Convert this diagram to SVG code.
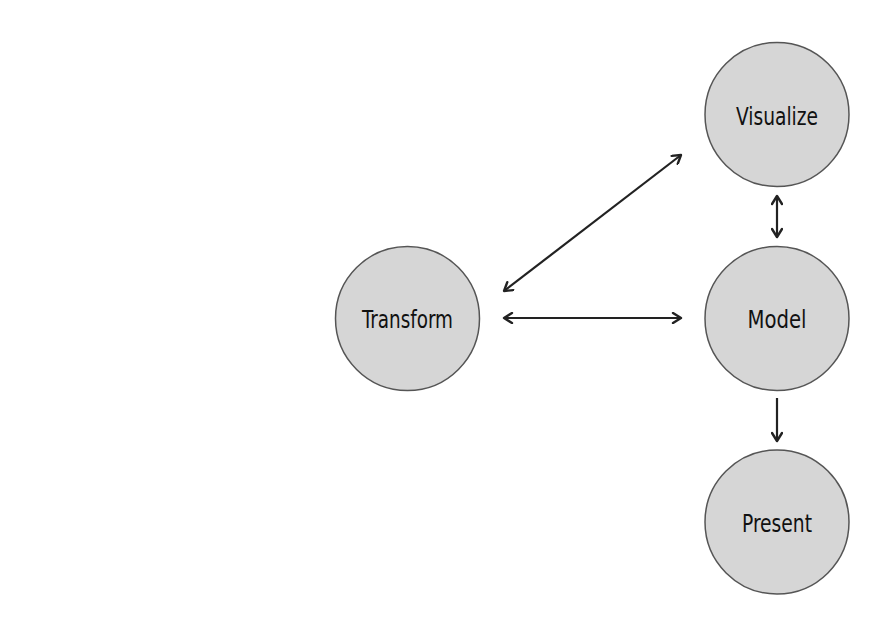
<svg xmlns="http://www.w3.org/2000/svg" width="892" height="637" viewBox="0 0 892 637">
<style>
.node circle{fill:#d6d6d6;stroke:#555;stroke-width:1.5}
.node text{font-family:"Liberation Sans Narrow","DejaVu Sans Condensed",sans-serif;font-size:24px;fill:#111;text-anchor:middle}
.conn line{stroke:#222;stroke-width:2.2;fill:none}
</style>
<defs>
<marker id="ah" viewBox="0 0 12 12" refX="10" refY="6" markerWidth="12" markerHeight="12" markerUnits="userSpaceOnUse" orient="auto-start-reverse">
<path d="M2,1 L10,6 L2,11" fill="none" stroke="#222" stroke-width="2.4" stroke-linecap="round" stroke-linejoin="round"/>
</marker>
</defs>
<rect width="892" height="637" fill="#fff"/>
<g class="conn">
<line x1="504" y1="291" x2="681" y2="155" marker-start="url(#ah)" marker-end="url(#ah)"/>
<line x1="504" y1="318" x2="681" y2="318" marker-start="url(#ah)" marker-end="url(#ah)"/>
<line x1="777" y1="196" x2="777" y2="237" marker-start="url(#ah)" marker-end="url(#ah)"/>
<line x1="777" y1="398" x2="777" y2="441" marker-end="url(#ah)"/>
</g>
<g id="transform" class="node"><circle cx="407.5" cy="318.5" r="72"/><text x="407.5" y="328" textLength="91" lengthAdjust="spacingAndGlyphs">Transform</text></g>
<g id="visualize" class="node"><circle cx="777" cy="114.5" r="72"/><text x="777" y="125" textLength="82" lengthAdjust="spacingAndGlyphs">Visualize</text></g>
<g id="model" class="node"><circle cx="777" cy="318.5" r="72"/><text x="777" y="328" textLength="59" lengthAdjust="spacingAndGlyphs">Model</text></g>
<g id="present" class="node"><circle cx="777" cy="522" r="72"/><text x="777" y="532" textLength="70" lengthAdjust="spacingAndGlyphs">Present</text></g>
</svg>
